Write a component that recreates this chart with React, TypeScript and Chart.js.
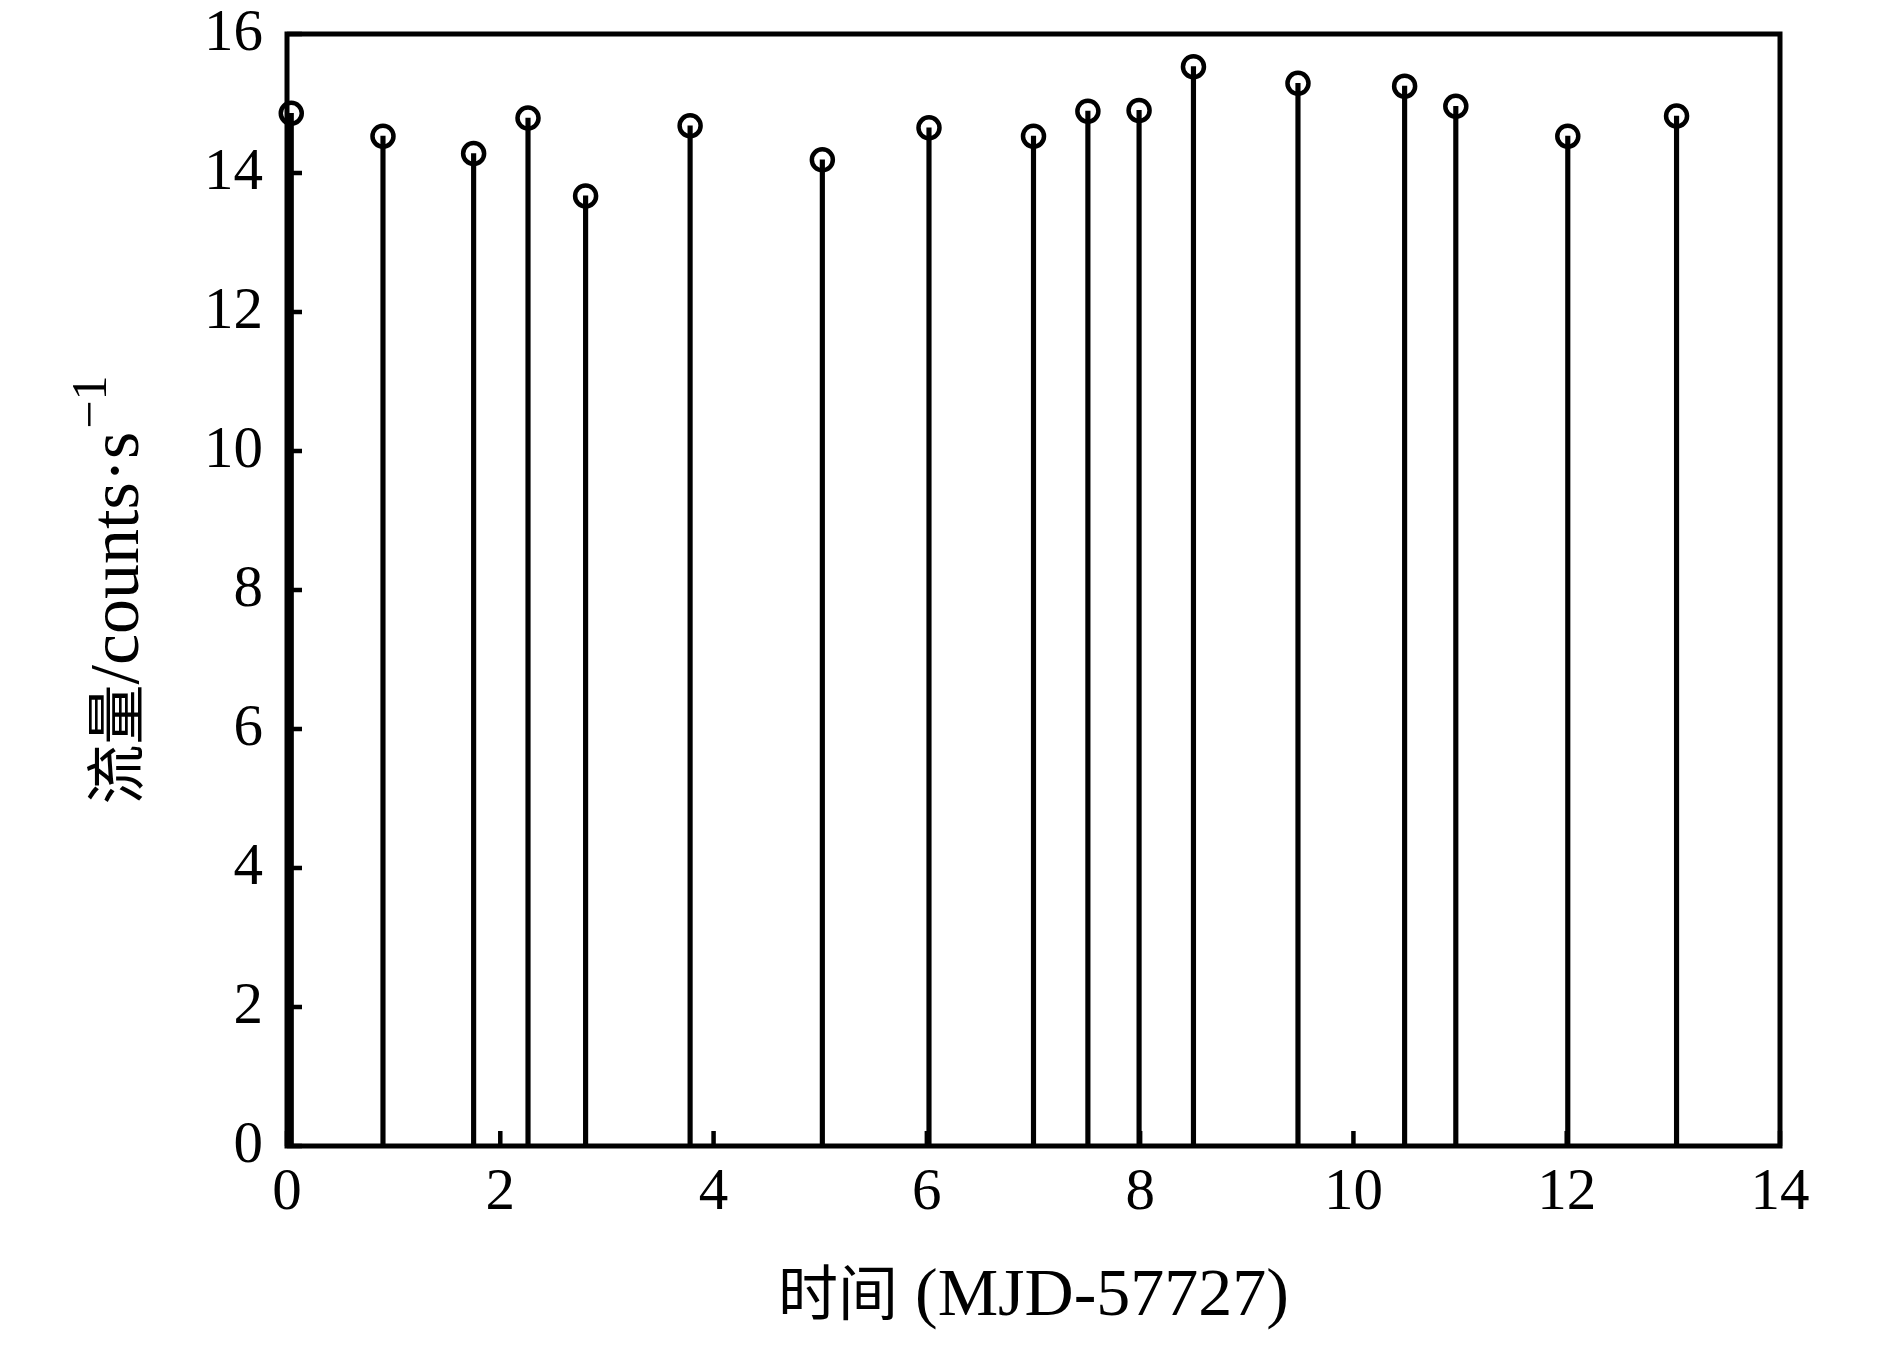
import React, { useEffect, useRef } from "react";
import { Chart, registerables } from "chart.js";

Chart.register(...registerables);

// Observation times (MJD-57727)
const times: number[] = [0.04, 0.9, 1.75, 2.26, 2.8, 3.78, 5.02, 6.02, 7.0, 7.51, 7.99, 8.5, 9.48, 10.48, 10.96, 12.01, 13.03];
// Flux (counts/s)
const flux: number[] = [14.86, 14.53, 14.28, 14.79, 13.67, 14.68, 14.19, 14.65, 14.53, 14.89, 14.9, 15.53, 15.29, 15.25, 14.96, 14.53, 14.82];

const xTicks: number[] = [0, 2, 4, 6, 8, 10, 12, 14];
const yTicks: number[] = [0, 2, 4, 6, 8, 10, 12, 14, 16];

const xTitleCJK = "时间";
const xTitleLatin = " (MJD-57727)";
const yTitleCJK = "流量";
const yTitleLatin = "/counts·s";
const yTitleSup = "−1";

const SERIF = "'Liberation Serif', 'Times New Roman', serif";
const CJK = "'Noto Sans CJK SC', sans-serif";

const framePlugin = {
  id: "frameAndTitles",
  afterDatasetsDraw(chart: any) {
    const { ctx, chartArea, scales } = chart;
    const { left, right, top, bottom } = chartArea;
    ctx.save();
    ctx.strokeStyle = "#000";
    ctx.lineWidth = 4.5;
    ctx.lineCap = "butt";
    // inward ticks
    const tl = 15;
    ctx.beginPath();
    for (const v of xTicks) {
      const x = scales.x.getPixelForValue(v);
      ctx.moveTo(x, bottom);
      ctx.lineTo(x, bottom - tl);
    }
    for (const v of yTicks) {
      const y = scales.y.getPixelForValue(v);
      ctx.moveTo(left, y);
      ctx.lineTo(left + tl, y);
    }
    ctx.stroke();
    // frame
    ctx.lineWidth = 5;
    ctx.lineJoin = "miter";
    ctx.strokeRect(left, top, right - left, bottom - top);

    ctx.fillStyle = "#000";
    ctx.textBaseline = "alphabetic";
    ctx.textAlign = "left";

    // X title
    const cjkFont = `60px ${CJK}`;
    const latFont = `68px ${SERIF}`;
    ctx.font = cjkFont;
    const w1 = ctx.measureText(xTitleCJK).width;
    ctx.font = latFont;
    const w2 = ctx.measureText(xTitleLatin).width;
    const cx = (left + right) / 2;
    const x0 = cx - (w1 + w2) / 2;
    const baseY = 1315;
    ctx.font = cjkFont;
    ctx.fillText(xTitleCJK, x0, baseY);
    ctx.font = latFont;
    ctx.fillText(xTitleLatin, x0 + w1, baseY);

    // Y title (rotated)
    const yCjk = `60px ${CJK}`;
    const yLat = `70px ${SERIF}`;
    const supFont = `50px ${SERIF}`;
    ctx.font = yCjk;
    const a = ctx.measureText(yTitleCJK).width;
    ctx.font = yLat;
    const b = ctx.measureText(yTitleLatin).width;
    ctx.font = supFont;
    const c = ctx.measureText(yTitleSup).width + 3;
    const total = a + b + c;
    const cy = (top + bottom) / 2;
    ctx.translate(138, cy);
    ctx.rotate(-Math.PI / 2);
    let s = -total / 2;
    ctx.font = yCjk;
    ctx.fillText(yTitleCJK, s, 0);
    s += a;
    ctx.font = yLat;
    ctx.fillText(yTitleLatin, s, 0);
    s += b + 3;
    ctx.font = supFont;
    ctx.fillText(yTitleSup, s, -32);
    ctx.restore();
  },
};

export default function App() {
  const ref = useRef<HTMLCanvasElement | null>(null);
  useEffect(() => {
    if (!ref.current) return;
    const pts = times.map((t, i) => ({ x: t, y: flux[i] }));
    const tickFont = { family: SERIF, size: 59 };
    const chart = new Chart(ref.current, {
      type: "bar",
      data: {
        datasets: [
          {
            type: "scatter",
            data: pts,
            pointStyle: "circle",
            pointRadius: 10.5,
            pointHoverRadius: 10.5,
            borderWidth: 4.5,
            borderColor: "#000",
            backgroundColor: "rgba(0,0,0,0)",
            clip: false,
            order: 1,
          } as any,
          {
            type: "bar",
            data: pts,
            backgroundColor: "#000",
            borderWidth: 0,
            barThickness: 4.5,
            grouped: false,
            order: 2,
          } as any,
        ],
      },
      options: {
        responsive: false,
        animation: false,
        devicePixelRatio: 1,
        layout: { padding: { top: 34, right: 110, left: 0, bottom: 0 } },
        plugins: { legend: { display: false }, tooltip: { enabled: false }, title: { display: false } },
        scales: {
          x: {
            type: "linear",
            min: 0,
            max: 14,
            offset: false,
            grid: { display: false, drawTicks: false },
            border: { display: false },
            ticks: {
              stepSize: 2,
              color: "#000",
              font: tickFont,
              padding: 12,
              maxRotation: 0,
              autoSkip: false,
            },
            afterFit: (scale: any) => {
              scale.height = 201;
              scale.paddingLeft = 0;
              scale.paddingRight = 0;
            },
          },
          y: {
            type: "linear",
            min: 0,
            max: 16,
            grid: { display: false, drawTicks: false },
            border: { display: false },
            ticks: {
              stepSize: 2,
              color: "#000",
              font: tickFont,
              padding: 24,
            },
            afterFit: (scale: any) => {
              scale.width = 287;
              scale.paddingTop = 0;
              scale.paddingBottom = 0;
            },
          },
        },
      },
      plugins: [framePlugin],
    } as any);
    return () => chart.destroy();
  }, []);
  return (
    <div style={{ position: "absolute", left: 0, top: 0, width: 1890, height: 1347, background: "#fff" }}>
      <canvas ref={ref} width={1890} height={1347} style={{ display: "block", width: 1890, height: 1347 }} />
    </div>
  );
}
